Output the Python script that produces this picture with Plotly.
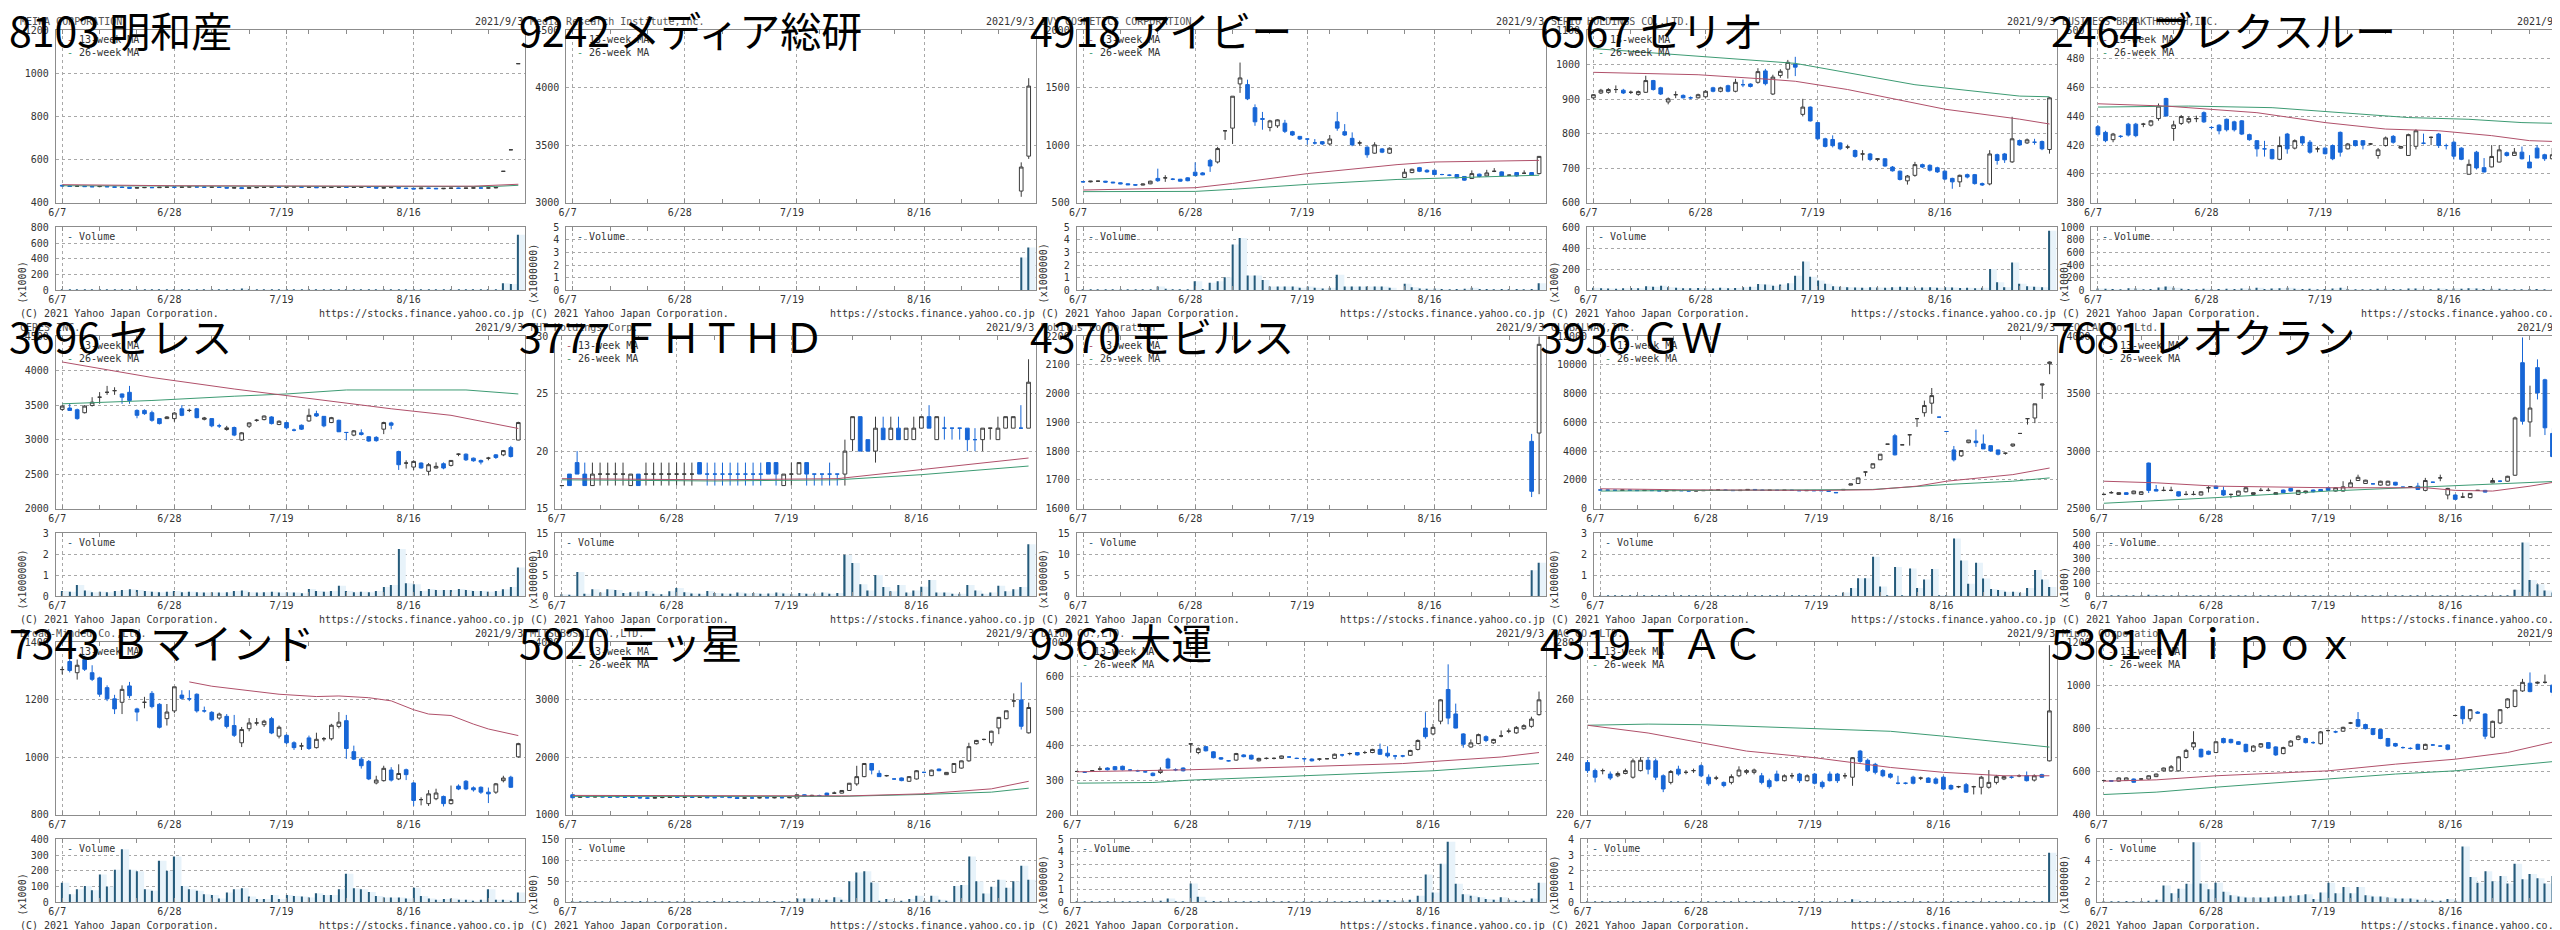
import plotly.graph_objects as go

W, H = 2560, 930
PW, PH = 512, 310
FONT = "DejaVu Sans Mono, Liberation Mono, monospace"
TITLE_FONT = "Noto Sans CJK JP, sans-serif"
UP_LINE = "#3c3c3c"
DOWN = "#1766d6"
MA13_COLOR = "#b0506a"
MA26_COLOR = "#3d9b73"
VOL_LINE = "#255a7a"
VOL_FILL = "#e8f3fa"
GRID = "#a8a8a8"
BORDER = "#8c8c8c"
TEXT = "#333333"

dates = ['6/7', '6/8', '6/9', '6/10', '6/11',
         '6/14', '6/15', '6/16', '6/17', '6/18',
         '6/21', '6/22', '6/23', '6/24', '6/25',
         '6/28', '6/29', '6/30', '7/1', '7/2',
         '7/5', '7/6', '7/7', '7/8', '7/9',
         '7/12', '7/13', '7/14', '7/15', '7/16',
         '7/19', '7/20', '7/21',
         '7/26', '7/27', '7/28', '7/29', '7/30',
         '8/2', '8/3', '8/4', '8/5', '8/6',
         '8/10', '8/11', '8/12', '8/13',
         '8/16', '8/17', '8/18', '8/19', '8/20',
         '8/23', '8/24', '8/25', '8/26', '8/27',
         '8/30', '8/31', '9/1', '9/2', '9/3']
label_dates = ['6/7', '6/28', '7/19', '8/16']
week_starts = ['6/7', '6/14', '6/21', '6/28', '7/5', '7/12', '7/19',
               '7/26', '8/2', '8/10', '8/16', '8/23', '8/30']

# ---- 8103 明和産 ----
ohlc_8103 = [
    (480, 482, 476, 477), (477, 479, 474, 475), (476, 478, 474, 476), (476, 477, 473, 474), (475, 477, 472, 473),
    (474, 476, 471, 475), (475, 476, 472, 473), (473, 475, 470, 471), (472, 474, 469, 470), (471, 472, 464, 466),
    (467, 470, 465, 469), (469, 471, 467, 470), (470, 471, 468, 469), (469, 472, 468, 471), (471, 473, 469, 472),
    (472, 474, 470, 471), (471, 473, 469, 472), (472, 474, 470, 473), (473, 474, 471, 472), (472, 474, 470, 471),
    (471, 473, 469, 472), (472, 473, 469, 470), (470, 472, 466, 467), (467, 470, 465, 469), (469, 471, 463, 465),
    (466, 470, 465, 469), (469, 471, 467, 470), (470, 472, 468, 471), (471, 473, 469, 472), (472, 473, 470, 471),
    (471, 473, 469, 472), (472, 474, 470, 473), (473, 474, 470, 471),
    (471, 473, 469, 472), (472, 474, 468, 469), (469, 471, 467, 470), (470, 472, 468, 471), (471, 473, 469, 472),
    (472, 473, 469, 470), (470, 472, 468, 471), (471, 473, 469, 472), (472, 474, 470, 471), (471, 472, 466, 467),
    (467, 470, 465, 469), (469, 471, 467, 470), (470, 471, 466, 467), (467, 469, 464, 465),
    (466, 468, 462, 463), (464, 468, 463, 467), (467, 469, 465, 466), (466, 468, 463, 464), (464, 467, 462, 466),
    (466, 468, 464, 467), (467, 469, 465, 466), (466, 468, 464, 467), (467, 469, 465, 468), (468, 470, 466, 467),
    (467, 469, 465, 468), (468, 472, 466, 470), (545, 545, 545, 545), (645, 645, 645, 645), (1045, 1045, 1045, 1045)]
vol_8103 = [12, 8, 10, 9, 7, 8, 6, 9, 12, 10, 14, 9, 7, 8, 6, 9, 7, 8, 6, 7, 8, 9, 10, 12, 25,
            9, 7, 8, 10, 6, 8, 9, 7, 8, 12, 10, 9, 7, 8, 6, 9, 10, 12, 9, 8, 10, 12,
            11, 9, 8, 7, 10, 9, 8, 7, 9, 10, 12, 15, 90, 80, 705]
ma13_8103 = [('6/7', 483), ('6/28', 478), ('7/19', 477), ('8/16', 475), ('8/26', 476), ('9/3', 485)]
ma26_8103 = [('6/7', 478), ('6/28', 476), ('7/19', 475), ('8/16', 474), ('8/31', 475), ('9/3', 480)]

# ---- 9242 メディア総研 (listed at the end of the window) ----
ohlc_9242 = [(3100, 3350, 3050, 3309), (3404, 4083, 3380, 4014)]
vol_9242 = [2.6, 3.4]
start_9242 = '9/2'

# ---- 4918 アイビー ----
ohlc_4918 = [
    (682, 686, 676, 680), (680, 688, 676, 686), (686, 690, 680, 686), (686, 688, 674, 678), (678, 680, 668, 672),
    (672, 675, 660, 663), (663, 666, 652, 655), (655, 658, 648, 652), (652, 664, 650, 661), (663, 690, 660, 686),
    (710, 795, 680, 690), (715, 738, 680, 715), (703, 712, 695, 703), (703, 706, 682, 686), (715, 720, 685, 690),
    (764, 850, 730, 735), (758, 765, 738, 741), (867, 880, 767, 818), (853, 985, 840, 970), (1125, 1125, 1045, 1125),
    (1148, 1426, 1010, 1426), (1533, 1719, 1455, 1585), (1527, 1570, 1392, 1403), (1326, 1355, 1168, 1203), (1231, 1289, 1134, 1225),
    (1154, 1220, 1120, 1211), (1168, 1225, 1150, 1220), (1191, 1220, 1105, 1120), (1117, 1125, 1080, 1088), (1076, 1080, 1045, 1053),
    (1053, 1053, 1005, 1053), (1019, 1053, 1005, 1019), (1030, 1035, 1000, 1010),
    (1010, 1088, 1000, 1053), (1203, 1289, 1125, 1148), (1117, 1183, 1080, 1088), (1059, 1111, 990, 1002), (1019, 1039, 996, 1019),
    (982, 990, 890, 916), (930, 1025, 925, 1002), (967, 975, 930, 939), (930, 980, 925, 973), None,
    (718, 795, 715, 764), (761, 795, 755, 790), (804, 810, 765, 772), (781, 790, 760, 767),
    (781, 785, 740, 744), (744, 750, 738, 744), (738, 745, 730, 738), (744, 748, 710, 715), (727, 730, 690, 695),
    (709, 780, 705, 752), (747, 752, 720, 727), (732, 785, 728, 758), (772, 800, 765, 772), (767, 772, 728, 732),
    (738, 745, 732, 738), (761, 765, 725, 732), (755, 780, 748, 755), (761, 765, 735, 738), (752, 905, 745, 902)]
vol_4918 = [0.05, 0.04, 0.04, 0.03, 0.04, 0.04, 0.03, 0.03, 0.05, 0.08,
            0.30, 0.12, 0.06, 0.05, 0.08, 0.73, 0.10, 0.60, 0.73, 1.04,
            3.63, 4.15, 1.17, 1.17, 0.83, 0.30, 0.30, 0.30, 0.30, 0.20,
            0.30, 0.20, 0.15, 0.20, 1.24, 0.30, 0.30, 0.30, 0.30, 0.30, 0.30, 0.20, None,
            0.52, 0.25, 0.15, 0.12, 0.15, 0.10, 0.08, 0.10, 0.12,
            0.20, 0.10, 0.10, 0.08, 0.10, 0.08, 0.10, 0.08, 0.10, 0.57]
ma13_4918 = [('6/7', 609), ('6/28', 629), ('7/5', 666), ('7/19', 752), ('8/6', 830), ('8/16', 853), ('9/3', 867)]
ma26_4918 = [('6/7', 595), ('6/28', 597), ('7/5', 615), ('7/19', 658), ('8/6', 701), ('9/3', 738)]

# ---- 6567 セリオ ----
ohlc_6567 = [
    (904, 915, 900, 913), (918, 930, 915, 926), (920, 932, 916, 928), (928, 940, 918, 928), (926, 930, 915, 918),
    (920, 925, 915, 920), (914, 925, 910, 922), (920, 968, 918, 954), (954, 956, 925, 928), (933, 936, 912, 915),
    (892, 905, 885, 901), (913, 923, 903, 913), (911, 914, 902, 904), (904, 908, 900, 904), (904, 916, 902, 913),
    (907, 926, 904, 923), (933, 936, 920, 923), (923, 936, 920, 933), (939, 942, 920, 923), (923, 959, 920, 949),
    (942, 957, 935, 942), (944, 946, 934, 937), (949, 990, 945, 980), (982, 988, 940, 945), (915, 971, 912, 964),
    (969, 987, 962, 981), (987, 1014, 960, 1007), (1002, 1023, 967, 993), (856, 901, 850, 877), (877, 879, 835, 837),
    (832, 834, 782, 785), (785, 788, 760, 763), (783, 795, 760, 765),
    (773, 775, 752, 756), (761, 768, 755, 761), (751, 754, 730, 734), (741, 752, 722, 741), (741, 744, 720, 725),
    (725, 729, 720, 727), (727, 729, 704, 706), (703, 706, 690, 692), (691, 693, 664, 667), (663, 680, 652, 677),
    (679, 718, 675, 710), (710, 713, 700, 703), (708, 711, 690, 694), (701, 704, 686, 689),
    (691, 693, 665, 668), (670, 672, 640, 660), (660, 681, 645, 679), (681, 684, 670, 674), (681, 683, 652, 655),
    (655, 658, 648, 651), (654, 752, 650, 741), (739, 742, 710, 722), (741, 744, 715, 724), (718, 849, 715, 785),
    (780, 783, 765, 767), (773, 786, 770, 782), (775, 785, 768, 775), (777, 780, 752, 756), (754, 906, 742, 904)]
vol_6567 = [25, 20, 18, 15, 20, 22, 20, 40, 35, 45, 30, 25, 20, 20, 22, 20, 18, 25, 20, 22,
            30, 35, 60, 55, 45, 55, 68, 140, 274, 130, 93, 62, 40, 35, 30, 28, 25, 30,
            28, 25, 30, 35, 30, 25, 28, 30, 25, 30, 28, 22, 25, 20,
            25, 202, 78, 30, 264, 62, 40, 35, 30, 566]
ma13_6567 = [('6/7', 978), ('6/25', 971), ('7/9', 957), ('7/14', 952), ('7/27', 928), ('8/16', 871), ('8/30', 842), ('9/3', 828)]
ma26_6567 = [('6/7', 1047), ('7/5', 1014), ('7/14', 1004), ('8/10', 942), ('8/30', 909), ('9/3', 907)]

# ---- 2464 ブレクスルー ----
ohlc_2464 = [
    (432.8, 434, 426, 427.3), (428.9, 430, 422, 423.1), (423.8, 428.5, 422, 427.7), (426.1, 427, 425, 426.1), (434.6, 435.5, 426, 427.0),
    (434.6, 435.5, 425.5, 426.6), (434.6, 435.5, 432.5, 434.6), (433.9, 437.5, 433, 436.9), (438.5, 449, 437, 447.2), (452.5, 453, 440, 440.3),
    (431.6, 437, 423, 434.1), (435.1, 441, 434, 439.9), (436.2, 440, 435, 438.5), (438.5, 440.5, 436, 438.5), (442.6, 443.5, 435.5, 436.2),
    (432.3, 433, 431, 432.3), (433.9, 434.5, 427.5, 430.0), (438.0, 438.5, 429.5, 430.7), (436.2, 437, 429.5, 430.7), (436.9, 437.5, 427, 427.7),
    (427.3, 428, 423, 423.8), (423.1, 423.5, 412, 417.4), (417.4, 423, 412, 417.4), (416.9, 417.5, 410, 410.5), (410.1, 426, 409.5, 419.7),
    (427.7, 428.5, 414, 417.4), (417.9, 424, 417, 423.1), (425.9, 426.5, 420, 421.5), (422.0, 423.5, 414, 415.1), (417.4, 419, 415, 417.4),
    (417.9, 418.5, 413.5, 414.0), (419.7, 420.5, 409.5, 410.5), (428.9, 429.5, 412, 415.1),
    (417.4, 421.5, 417, 420.8), (423.1, 423.5, 419, 419.7), (423.1, 423.5, 417, 420.1), (420.8, 421.5, 420, 420.8), (412.8, 418, 410.5, 416.7),
    (419.7, 426, 419, 425.0), (426.1, 427, 421, 422.0), (417.9, 419.5, 417.5, 419.0), (412.8, 428, 412.5, 427.3), (419.2, 431, 417, 430.0),
    (421.3, 428, 420.5, 421.3), (425.4, 426, 420, 425.4), (427.7, 428.5, 418, 419.7), (419.7, 421, 417, 419.7),
    (422.0, 423, 410, 412.3), (417.9, 418.5, 409.5, 410.1), (399.7, 410, 399.5, 406.6), (415.1, 416, 403, 404.1), (404.3, 411, 401, 401.3),
    (404.8, 420, 404.5, 412.1), (408.2, 420, 408, 416.7), (414.7, 415.5, 412, 412.8), (412.8, 418, 412.5, 415.1), (415.1, 419, 410, 410.5),
    (408.2, 413, 404, 404.1), (417.9, 420, 411, 411.0), (413.3, 414, 409, 410.5), (410.5, 418, 410, 413.3), (428.9, 493.5, 423, 493.1)]
vol_2464 = [30, 25, 20, 15, 35, 30, 15, 20, 45, 60, 40, 25, 20, 15, 25, 15, 20, 25, 20, 30,
            25, 40, 20, 30, 35, 40, 25, 20, 25, 15, 20, 30, 40, 20, 15, 15, 10, 25,
            25, 20, 10, 30, 30, 15, 15, 30, 15, 30, 25, 35, 30, 20,
            25, 25, 15, 15, 15, 20, 20, 15, 15, 1050]
ma13_2464 = [('6/7', 448.8), ('6/18', 447.2), ('7/6', 442.6), ('7/19', 435.7), ('8/2', 431.2), ('8/12', 430.0),
             ('8/23', 426.6), ('8/30', 423.1), ('9/3', 422.4)]
ma26_2464 = [('6/7', 446.5), ('6/23', 447.2), ('7/8', 446.1), ('7/21', 442.6), ('8/5', 439.2), ('8/18', 438.0),
             ('8/27', 435.7), ('9/3', 435.1)]

# ---- 3696 セレス ----
ohlc_3696 = [
    (3439, 3500, 3420, 3487), (3458, 3530, 3420, 3424), (3434, 3450, 3290, 3305), (3391, 3500, 3380, 3487), (3496, 3616, 3480, 3544),
    (3616, 3690, 3520, 3616), (3687, 3780, 3650, 3687), (3711, 3760, 3650, 3711), (3663, 3670, 3520, 3616), (3687, 3780, 3520, 3568),
    (3424, 3440, 3310, 3353), (3424, 3440, 3360, 3377), (3391, 3420, 3260, 3281), (3305, 3310, 3220, 3233), (3305, 3340, 3300, 3329),
    (3305, 3400, 3260, 3386), (3448, 3500, 3340, 3353), (3424, 3450, 3400, 3424), (3448, 3460, 3310, 3319), (3295, 3330, 3280, 3314),
    (3305, 3310, 3180, 3200), (3200, 3230, 3170, 3200), (3147, 3200, 3130, 3171), (3176, 3190, 3050, 3066), (2994, 3110, 2980, 3099),
    (3195, 3250, 3170, 3243), (3281, 3300, 3260, 3281), (3291, 3350, 3280, 3343), (3329, 3340, 3220, 3233), (3219, 3280, 3210, 3267),
    (3248, 3260, 3150, 3171), (3138, 3160, 3120, 3138), (3209, 3220, 3140, 3152),
    (3271, 3450, 3260, 3353), (3377, 3420, 3330, 3343), (3338, 3340, 3180, 3200), (3248, 3330, 3240, 3319), (3281, 3290, 3110, 3114),
    (3104, 3110, 2990, 3104), (3066, 3140, 3050, 3128), (3099, 3150, 3060, 3075), (3042, 3050, 2970, 2980), (3033, 3050, 2970, 2985),
    (3152, 3260, 3080, 3248), (3243, 3260, 3150, 3209), (2827, 2840, 2560, 2636), (2660, 2700, 2580, 2660),
    (2602, 2700, 2560, 2684), (2660, 2670, 2580, 2588), (2540, 2660, 2480, 2636), (2588, 2670, 2580, 2612), (2650, 2670, 2570, 2588),
    (2626, 2700, 2610, 2698), (2789, 2800, 2760, 2789), (2789, 2800, 2690, 2707), (2731, 2740, 2680, 2693), (2698, 2710, 2640, 2674),
    (2731, 2750, 2700, 2731), (2779, 2790, 2720, 2741), (2779, 2850, 2760, 2841), (2884, 2910, 2740, 2755), (2994, 3260, 2990, 3248)]
vol_3696 = [0.25, 0.22, 0.54, 0.28, 0.20, 0.22, 0.20, 0.25, 0.30, 0.34,
            0.30, 0.25, 0.22, 0.20, 0.22, 0.25, 0.20, 0.22, 0.20, 0.18,
            0.20, 0.18, 0.20, 0.25, 0.28, 0.20, 0.18, 0.20, 0.22, 0.18,
            0.20, 0.18, 0.15, 0.35, 0.25, 0.22, 0.25, 0.50,
            0.25, 0.20, 0.22, 0.20, 0.25, 0.44, 0.54, 2.25, 0.62,
            0.58, 0.25, 0.35, 0.30, 0.30, 0.30, 0.35, 0.30, 0.25, 0.25,
            0.22, 0.25, 0.34, 0.44, 1.37]
ma13_3696 = [('6/7', 4127), ('6/23', 3902), ('7/8', 3735), ('7/19', 3640), ('8/11', 3448), ('8/23', 3353), ('9/3', 3162)]
ma26_3696 = [('6/7', 3520), ('6/23', 3568), ('7/8', 3630), ('7/19', 3663), ('8/2', 3721), ('8/25', 3721), ('9/3', 3663)]

# ---- 3777 ＦＨＴＨＤ ----
ohlc_3777 = [
    (17, 17, 17, 17), (18, 18, 17, 17), (19, 20, 18, 18), (18, 19, 17, 17), (17, 19, 17, 18),
    (18, 19, 17, 18), (18, 19, 17, 18), (18, 19, 17, 18), (18, 19, 17, 18), (17, 18, 17, 18),
    (18, 18, 17, 17), (18, 19, 17, 18), (18, 19, 17, 18), (18, 19, 17, 18), (18, 19, 17, 18),
    (18, 19, 17, 18), (18, 19, 17, 18), (18, 19, 17, 18), (19, 19, 18, 18), (18, 19, 17, 18),
    (18, 19, 17, 18), (18, 19, 17, 18), (18, 19, 17, 18), (18, 19, 17, 18), (18, 19, 17, 18),
    (18, 19, 17, 18), (18, 19, 17, 18), (19, 19, 18, 18), (19, 19, 17, 18), (17, 18, 17, 18),
    (18, 19, 17, 18), (18, 19, 18, 19), (19, 19, 17, 18),
    (18, 18, 17, 18), (18, 18, 17, 18), (18, 19, 17, 18), (18, 18, 17, 18), (18, 21, 17, 20),
    (21, 23, 20, 23), (23, 23, 20, 20), (21, 21, 20, 20), (20, 23, 19, 22), (22, 23, 21, 21),
    (21, 23, 21, 22), (22, 23, 21, 21), (21, 22, 21, 22), (21, 23, 21, 22),
    (22, 23, 22, 23), (23, 24, 22, 22), (21, 23, 21, 23), (22, 23, 21, 22), (22, 22, 21, 22),
    (22, 22, 21, 22), (22, 22, 20, 21), (21, 22, 20, 21), (21, 22, 20, 22), (22, 22, 21, 22),
    (21, 23, 21, 22), (22, 23, 22, 23), (22, 23, 22, 23), (22, 24, 22, 22), (22, 28, 22, 26)]
vol_3777 = [0.5, 0.4, 5.8, 0.6, 1.7, 0.9, 1.7, 1.5, 0.8, 1.0, 1.1, 1.3, 0.6, 0.5, 1.2,
            2.0, 1.0, 0.7, 0.6, 1.3, 0.8, 0.7, 0.6, 0.9, 0.7, 0.8, 0.6, 0.7, 0.9, 0.7,
            0.5, 0.8, 0.6, 0.7, 0.9, 0.6, 0.8, 9.9, 7.9, 2.9, 1.4, 5.1, 2.2,
            1.2, 2.7, 0.9, 1.4, 2.3, 3.9, 0.9, 0.9, 0.6, 0.6, 2.7, 1.4, 0.6, 0.9,
            2.5, 1.2, 1.7, 2.2, 12.4]
ma13_3777 = [('6/7', 17.6), ('7/5', 17.5), ('7/29', 17.6), ('8/16', 18.4), ('9/3', 19.4)]
ma26_3777 = [('6/7', 17.5), ('7/5', 17.4), ('7/29', 17.5), ('8/16', 17.95), ('9/3', 18.7)]

# ---- 4370 モビルス (listed at the end of the window) ----
ohlc_4370 = [(1834, 1860, 1640, 1660), (1863, 2200, 1650, 2172)]
vol_4370 = [6.2, 8.0]
start_4370 = '9/2'

# ---- 3936 ＧＷ ----
ohlc_3936 = [
    (1300, 1330, 1270, 1290), (1290, 1310, 1260, 1280), (1280, 1300, 1250, 1270), (1270, 1300, 1250, 1290), (1290, 1310, 1260, 1270),
    (1270, 1290, 1240, 1250), (1250, 1280, 1230, 1270), (1270, 1290, 1240, 1250), (1250, 1270, 1220, 1230), (1230, 1260, 1210, 1240),
    (1240, 1270, 1220, 1260), (1260, 1280, 1230, 1240), (1240, 1260, 1210, 1220), (1220, 1250, 1200, 1240), (1240, 1270, 1220, 1260),
    (1260, 1290, 1240, 1270), (1270, 1300, 1250, 1290), (1290, 1310, 1260, 1270), (1270, 1290, 1240, 1250), (1250, 1280, 1230, 1270),
    (1270, 1340, 1260, 1330), (1330, 1350, 1280, 1290), (1290, 1310, 1250, 1260), (1260, 1290, 1240, 1280), (1280, 1300, 1250, 1260),
    (1260, 1290, 1240, 1280), (1280, 1300, 1250, 1260), (1260, 1280, 1230, 1240), (1240, 1270, 1220, 1260), (1260, 1280, 1230, 1240),
    (1260, 1280, 1230, 1240), (1240, 1250, 1190, 1200), (1120, 1140, 1090, 1100),
    (1300, 1340, 1290, 1330), (1630, 1720, 1620, 1720), (1743, 2140, 1740, 2133), (2546, 2546, 2248, 2546), (2822, 3120, 2800, 3120),
    (3395, 3785, 3380, 3785), (4485, 4485, 4485, 4485), (5070, 5200, 3700, 3739), (4439, 4439, 4439, 4439), (5139, 5139, 4382, 5139),
    (6263, 6263, 5690, 6263), (6675, 7520, 6400, 7180), (7340, 8396, 6600, 7868), (6368, 6368, 6368, 6368),
    (5368, 5368, 5368, 5368), (4083, 4358, 3280, 3395), (3670, 4037, 3600, 4037), (4588, 4772, 4550, 4772), (4702, 5505, 4300, 4588),
    (4496, 5161, 4150, 4152), (4381, 4400, 3950, 4014), (4083, 4100, 3700, 3785), (3854, 3900, 3750, 3854), (4358, 4496, 4300, 4496),
    (5230, 5230, 5230, 5230), (6263, 6263, 5850, 6263), (6308, 7295, 5950, 7295), (8600, 8680, 7639, 8671), (10093, 10250, 9360, 10208)]
vol_3936 = [0.03, 0.02, 0.02, 0.03, 0.02, 0.02, 0.02, 0.03, 0.02, 0.02,
            0.02, 0.02, 0.02, 0.02, 0.03, 0.02, 0.03, 0.02, 0.02, 0.02,
            0.03, 0.02, 0.02, 0.02, 0.02, 0.02, 0.02, 0.02, 0.02, 0.02,
            0.03, 0.04, 0.05, 0.19, 0.40, 0.86, 0.86, 1.88,
            0.47, 0.05, 1.40, 0.05, 1.33, 0.40, 0.80, 1.30, 0.03,
            0.03, 2.75, 1.70, 0.60, 1.60, 0.85, 0.35, 0.30, 0.22, 0.22,
            0.17, 0.40, 1.25, 0.80, 0.45]
ma13_3936 = [('6/7', 1376), ('6/22', 1308), ('7/19', 1262), ('7/30', 1308), ('8/10', 1560), ('8/16', 1904),
             ('8/27', 2363), ('9/3', 2822)]
ma26_3936 = [('6/7', 1216), ('7/5', 1262), ('7/30', 1330), ('8/16', 1675), ('8/27', 1904), ('9/3', 2133)]

# ---- 7681 レオクラン ----
ohlc_7681 = [
    (2623, 2630, 2615, 2623), (2638, 2652, 2630, 2638), (2623, 2640, 2618, 2638), (2638, 2642, 2620, 2623), (2629, 2655, 2625, 2652),
    (2623, 2650, 2618, 2646), (2896, 2900, 2635, 2658), (2666, 2705, 2650, 2652), (2658, 2690, 2650, 2658), (2658, 2690, 2650, 2658),
    (2646, 2650, 2605, 2609), (2623, 2652, 2615, 2623), (2623, 2652, 2615, 2623), (2618, 2650, 2615, 2646), (2681, 2695, 2640, 2681),
    (2695, 2700, 2670, 2675), (2658, 2690, 2610, 2618), (2623, 2630, 2590, 2623), (2615, 2655, 2610, 2652), (2646, 2685, 2640, 2681),
    (2623, 2640, 2615, 2638), (2658, 2680, 2650, 2658), (2658, 2680, 2650, 2658), (2623, 2640, 2618, 2638), (2661, 2665, 2635, 2638),
    (2675, 2680, 2648, 2652), (2623, 2660, 2618, 2658), (2638, 2655, 2630, 2652), (2661, 2665, 2640, 2646), (2666, 2670, 2648, 2652),
    (2681, 2685, 2655, 2658), (2652, 2685, 2648, 2681), (2652, 2738, 2648, 2689),
    (2686, 2752, 2680, 2724), (2744, 2795, 2740, 2772), (2718, 2750, 2715, 2747), (2715, 2720, 2712, 2715), (2704, 2742, 2700, 2738),
    (2704, 2742, 2700, 2738), (2729, 2732, 2700, 2704), (2686, 2690, 2683, 2686), (2690, 2694, 2686, 2690), (2695, 2724, 2662, 2666),
    (2658, 2767, 2650, 2744), (2729, 2733, 2725, 2729), (2767, 2795, 2738, 2767), (2618, 2680, 2580, 2675),
    (2618, 2622, 2578, 2580), (2600, 2638, 2595, 2600), (2595, 2635, 2590, 2632), (2658, 2662, 2655, 2658), (2658, 2662, 2640, 2643),
    (2724, 2767, 2720, 2744), (2738, 2745, 2730, 2738), (2738, 2785, 2735, 2781), (2790, 3300, 2785, 3289), (3770, 3990, 3231, 3260),
    (3254, 3570, 3125, 3375), (3727, 3799, 3450, 3507), (3621, 3630, 3140, 3203), (3154, 3200, 2940, 2953), (2916, 3460, 2910, 3455)]
vol_7681 = [3, 4, 3, 2, 3, 3, 12, 4, 3, 3, 4, 3, 3, 3, 4, 4, 4, 3, 3, 4, 3, 3, 3, 3, 4, 4, 3, 3, 3, 3,
            4, 4, 5, 5, 6, 4, 3, 4, 3, 3, 3, 3, 4, 5, 3, 4, 5, 4, 3, 3, 3, 3,
            4, 3, 5, 52, 427, 130, 96, 47, 31, 117]
ma13_7681 = [('6/7', 2738), ('6/16', 2724), ('6/28', 2695), ('7/19', 2681), ('8/10', 2681), ('8/16', 2658),
             ('8/23', 2652), ('8/30', 2695), ('9/3', 2738)]
ma26_7681 = [('6/7', 2546), ('6/28', 2595), ('7/19', 2652), ('8/10', 2686), ('8/23', 2709), ('8/27', 2724), ('9/3', 2738)]

# ---- 7343 Ｂマインド ----
ohlc_7343 = [
    (1305, 1315, 1288, 1305), (1333, 1345, 1295, 1302), (1294, 1340, 1270, 1320), (1340, 1353, 1300, 1306), (1294, 1320, 1265, 1271),
    (1276, 1280, 1210, 1219), (1242, 1250, 1195, 1203), (1203, 1217, 1150, 1168), (1191, 1250, 1150, 1236), (1248, 1262, 1205, 1214),
    (1168, 1172, 1125, 1157), (1191, 1210, 1170, 1191), (1222, 1230, 1170, 1176), (1184, 1188, 1100, 1104), (1134, 1185, 1110, 1157),
    (1161, 1245, 1153, 1245), (1216, 1233, 1200, 1205), (1203, 1233, 1195, 1203), (1219, 1222, 1155, 1161), (1161, 1176, 1155, 1161),
    (1156, 1160, 1125, 1130), (1136, 1155, 1130, 1150), (1142, 1150, 1100, 1107), (1110, 1147, 1070, 1076), (1050, 1105, 1035, 1096),
    (1099, 1136, 1090, 1119), (1119, 1136, 1110, 1119), (1113, 1130, 1105, 1125), (1134, 1140, 1080, 1084), (1073, 1110, 1065, 1104),
    (1076, 1080, 1045, 1050), (1050, 1055, 1025, 1033), (1039, 1050, 1025, 1039),
    (1067, 1075, 1025, 1030), (1033, 1085, 1030, 1062), (1064, 1070, 1055, 1064), (1064, 1116, 1058, 1111), (1107, 1157, 1100, 1122),
    (1127, 1147, 994, 1030), (1019, 1040, 990, 993), (993, 1000, 960, 970), (985, 990, 920, 924), (910, 935, 905, 920),
    (918, 970, 915, 961), (955, 965, 915, 920), (924, 975, 920, 943), (956, 960, 920, 939),
    (910, 913, 830, 849), (852, 860, 832, 852), (838, 885, 830, 872), (855, 890, 850, 875), (863, 866, 828, 838),
    (838, 901, 835, 852), (899, 905, 885, 889), (916, 920, 885, 889), (893, 898, 880, 886), (895, 898, 872, 878),
    (878, 894, 840, 872), (878, 910, 872, 907), (918, 935, 912, 927), (930, 935, 893, 895), (1001, 1050, 998, 1047)]
vol_7343 = [124, 52, 83, 104, 77, 176, 100, 207, 336, 207, 197, 83, 73, 263, 201,
            290, 104, 83, 73, 52, 46, 25, 62, 83, 89, 37, 21, 21, 46, 21,
            46, 41, 37, 31, 58, 46, 46, 83, 182, 89, 83, 66, 41, 31, 31, 31, 25,
            93, 41, 25, 17, 21, 25, 17, 17, 10, 17, 83, 17, 17, 10, 62]
ma13_7343 = [('6/30', 1262), ('7/5', 1247), ('7/16', 1219), ('7/27', 1211), ('7/30', 1213), ('8/5', 1207),
             ('8/11', 1196), ('8/16', 1165), ('8/18', 1150), ('8/23', 1145), ('8/26', 1115), ('8/30', 1098), ('9/3', 1075)]

# ---- 5820 三ッ星 ----
ohlc_5820 = [
    (1344, 1350, 1285, 1293), (1300, 1320, 1290, 1310), (1310, 1320, 1295, 1305), (1305, 1318, 1298, 1312), (1312, 1320, 1300, 1306),
    (1306, 1315, 1295, 1300), (1320, 1330, 1300, 1305), (1305, 1312, 1296, 1300), (1310, 1315, 1295, 1298), (1298, 1305, 1280, 1290),
    (1290, 1300, 1270, 1285), (1285, 1300, 1278, 1295), (1295, 1305, 1285, 1298), (1298, 1310, 1290, 1305), (1305, 1312, 1298, 1300),
    (1300, 1310, 1292, 1305), (1305, 1312, 1296, 1300), (1300, 1308, 1292, 1302), (1310, 1315, 1290, 1293), (1302, 1310, 1288, 1292),
    (1315, 1320, 1300, 1305), (1310, 1315, 1290, 1295), (1295, 1300, 1275, 1280), (1285, 1295, 1275, 1290), (1290, 1300, 1280, 1288),
    (1288, 1298, 1280, 1295), (1295, 1300, 1285, 1290), (1290, 1300, 1282, 1296), (1296, 1305, 1285, 1292), (1292, 1300, 1285, 1298),
    (1287, 1350, 1282, 1344), (1344, 1350, 1310, 1320), (1320, 1345, 1315, 1333),
    (1330, 1345, 1320, 1330), (1373, 1380, 1325, 1333), (1373, 1400, 1360, 1373), (1373, 1425, 1368, 1419), (1419, 1550, 1410, 1545),
    (1533, 1849, 1500, 1660), (1660, 1895, 1650, 1889), (1889, 1895, 1700, 1774), (1717, 1770, 1660, 1660), (1677, 1690, 1660, 1677),
    (1619, 1625, 1612, 1619), (1637, 1645, 1580, 1591), (1579, 1670, 1570, 1660), (1619, 1775, 1610, 1763),
    (1734, 1745, 1720, 1734), (1677, 1780, 1670, 1774), (1792, 1800, 1755, 1763), (1694, 1740, 1690, 1734), (1734, 1895, 1730, 1889),
    (1809, 1940, 1800, 1935), (1935, 2250, 1920, 2182), (2233, 2300, 2220, 2291), (2308, 2320, 2290, 2308), (2250, 2460, 2200, 2451),
    (2508, 2700, 2400, 2692), (2669, 2810, 2660, 2807), (2979, 3110, 2870, 2979), (2996, 3300, 2480, 2537), (2423, 2950, 2410, 2864)]
vol_5820 = [3, 2, 2, 1, 2, 2, 2, 1, 2, 3, 2, 1, 2, 1, 2, 2, 2, 1, 2, 3, 2, 3, 2, 2, 1, 2, 2, 3, 2, 2,
            9, 9, 9, 5, 6, 12, 6, 50, 71, 74, 47, 4, 8, 3, 4, 8, 16,
            4, 16, 6, 4, 39, 41, 109, 50, 21, 37, 54, 35, 50, 87, 54]
ma13_5820 = [('6/7', 1333), ('7/30', 1325), ('8/16', 1361), ('8/27', 1447), ('9/3', 1579)]
ma26_5820 = [('6/7', 1316), ('7/29', 1316), ('8/16', 1350), ('8/27', 1390), ('9/3', 1459)]

# ---- 9363 大運 ----
ohlc_9363 = [
    (325, 327, 323, 325), (323, 325, 321, 323), (327, 329, 325, 327), (332, 340, 328, 332), (335, 337, 328, 330),
    (339, 341, 328, 330), (340, 342, 328, 330), (329, 332, 326, 329), (327, 330, 324, 327), (324, 326, 322, 324),
    (320, 322, 311, 313), (322, 337, 318, 329), (361, 365, 333, 335), (330, 334, 326, 330), (335, 337, 325, 327),
    (405, 406, 380, 405), (380, 395, 375, 391), (397, 399, 383, 385), (382, 384, 363, 365), (365, 367, 359, 361),
    (356, 358, 354, 356), (358, 379, 356, 377), (373, 375, 366, 368), (372, 374, 359, 361), (356, 365, 354, 363),
    (363, 366, 360, 363), (363, 366, 360, 363), (363, 371, 361, 370), (367, 369, 365, 367), (363, 365, 361, 363),
    (362, 364, 353, 362), (361, 363, 354, 356), (361, 364, 356, 361),
    (362, 364, 360, 362), (363, 377, 361, 375), (373, 376, 368, 373), (377, 380, 372, 377), (380, 381, 371, 373),
    (380, 385, 376, 380), (380, 391, 378, 389), (389, 406, 373, 375), (378, 398, 365, 370), (370, 373, 360, 370),
    (370, 373, 366, 370), (372, 388, 370, 386), (389, 418, 386, 415), (451, 497, 420, 426),
    (434, 463, 430, 453), (471, 535, 462, 533), (563, 636, 462, 480), (492, 522, 450, 451), (434, 436, 394, 404),
    (396, 418, 394, 408), (406, 435, 404, 432), (426, 430, 410, 415), (408, 420, 405, 418), (428, 444, 424, 428),
    (442, 450, 436, 442), (437, 457, 434, 453), (449, 462, 446, 458), (456, 484, 452, 477), (490, 557, 487, 533)]
vol_9363 = [0.05, 0.04, 0.03, 0.04, 0.05, 0.06, 0.05, 0.04, 0.05, 0.08,
            0.13, 0.13, 0.30, 0.08, 0.06, 1.50, 0.44, 0.13, 0.10, 0.08,
            0.06, 0.08, 0.06, 0.05, 0.05, 0.05, 0.04, 0.04, 0.05, 0.04,
            0.04, 0.04, 0.05, 0.05, 0.06, 0.07, 0.10, 0.08,
            0.10, 0.15, 0.20, 0.18, 0.12, 0.15, 0.20, 0.52, 2.20,
            0.78, 3.05, 4.80, 1.48, 0.65, 0.52, 0.40, 0.26, 0.20, 0.40,
            0.20, 0.13, 0.13, 0.30, 1.55]
ma13_9363 = [('6/7', 324), ('6/28', 330), ('7/19', 339), ('8/10', 348), ('8/16', 354), ('8/27', 367), ('9/3', 380)]
ma26_9363 = [('6/7', 291), ('6/21', 293), ('6/28', 300), ('7/19', 313), ('8/16', 327), ('8/27', 341), ('9/3', 348)]

# ---- 4319 ＴＡＣ ----
ohlc_4319 = [
    (238.1, 239, 234.5, 235.3), (235.3, 236, 231.2, 233.0), (235.3, 236, 234, 235.3), (234.1, 235, 232, 232.7), (233.5, 235, 233, 234.3),
    (234.3, 236, 234, 235.3), (233.0, 239.5, 232.5, 238.7), (235.3, 240, 235, 238.9), (238.9, 240, 234, 235.8), (238.7, 239.5, 232, 233.0),
    (233.5, 234, 227.8, 228.9), (231.2, 235.5, 230.5, 235.0), (235.8, 237, 233.5, 234.1), (234.7, 235.5, 234, 234.7), (235.3, 236, 234.5, 235.3),
    (237.0, 237.5, 233, 233.5), (233.0, 234, 230, 230.7), (232.7, 233.5, 232, 232.7), (231.2, 231.5, 229.5, 230.1), (231.2, 234, 230.5, 233.2),
    (233.5, 236.8, 233, 235.5), (234.7, 235.8, 234, 235.3), (234.7, 236, 234, 235.5), (233.5, 234.5, 230.5, 231.2), (231.8, 232.5, 229, 229.7),
    (234.1, 235.3, 231.5, 231.8), (231.8, 234, 231.5, 233.5), (233.5, 234.5, 232.5, 233.5), (234.1, 234.5, 231, 231.8), (231.8, 234, 231.5, 233.5),
    (234.1, 234.5, 230.5, 230.9), (231.2, 231.8, 229, 229.7), (234.1, 235, 231.5, 231.8),
    (234.1, 234.5, 231, 231.8), (233.5, 234.5, 232.5, 233.5), (233.0, 240, 230, 239.8), (242.1, 242.5, 238, 238.5), (238.9, 239.5, 234.8, 235.3),
    (237.5, 238, 234, 234.7), (235.3, 235.8, 233, 233.5), (234.1, 234.5, 232.5, 233.0), (230.9, 233.5, 230.5, 230.9), (230.9, 231.2, 230.5, 230.9),
    (233.0, 233.5, 230.5, 230.9), (232.7, 233.2, 232, 232.7), (232.7, 233, 231, 231.2), (232.4, 233, 230.5, 230.9),
    (233.0, 233.5, 228.5, 228.9), (230.1, 230.5, 228.5, 228.9), (229.7, 230, 229.2, 229.7), (230.4, 231, 227.5, 227.8), (229.7, 230, 227, 229.7),
    (229.5, 233.5, 227, 233.0), (229.5, 235.5, 229, 231.2), (231.2, 233.8, 230.5, 233.2), (232.4, 233.5, 232, 233.2), (233.0, 233.5, 232.5, 233.0),
    (233.5, 234, 233, 233.5), (233.5, 235, 231.5, 231.8), (232.0, 234, 231.5, 233.5), (233.9, 234.2, 232.8, 233.0), (238.7, 279, 238.5, 256.1)]
vol_4319 = [0.04, 0.03, 0.02, 0.02, 0.02, 0.02, 0.04, 0.03, 0.03, 0.03,
            0.04, 0.03, 0.02, 0.02, 0.02, 0.03, 0.03, 0.02, 0.02, 0.02,
            0.02, 0.02, 0.02, 0.03, 0.03, 0.02, 0.02, 0.02, 0.02, 0.02,
            0.03, 0.03, 0.02, 0.02, 0.02, 0.20, 0.06, 0.04,
            0.03, 0.03, 0.02, 0.02, 0.02, 0.02, 0.02, 0.02, 0.02,
            0.03, 0.02, 0.02, 0.03, 0.02, 0.04, 0.03, 0.02, 0.02, 0.02,
            0.02, 0.02, 0.02, 0.02, 3.15]
ma13_4319 = [('6/7', 251.1), ('6/17', 248.4), ('6/28', 245.0), ('7/6', 242.1), ('7/19', 239.8), ('8/4', 236.4),
             ('8/16', 234.7), ('8/26', 233.5), ('9/3', 233.5)]
ma26_4319 = [('6/7', 251.1), ('6/17', 251.5), ('6/28', 251.3), ('7/19', 249.9), ('8/4', 249.0), ('8/16', 247.3),
             ('8/26', 245.0), ('9/3', 243.5)]

# ---- 5381 Ｍｉｐｏｘ ----
ohlc_5381 = [
    (558, 562, 554, 558), (558, 560, 552, 555), (555, 572, 553, 570), (558, 572, 556, 570), (565, 567, 548, 550),
    (565, 568, 562, 565), (565, 582, 563, 580), (576, 590, 574, 588), (603, 618, 600, 616), (603, 630, 600, 622),
    (603, 672, 600, 668), (665, 705, 660, 698), (714, 787, 700, 734), (703, 706, 665, 668), (694, 697, 676, 680),
    (688, 740, 685, 738), (753, 757, 730, 734), (749, 752, 730, 734), (738, 741, 723, 726), (726, 729, 688, 692),
    (695, 722, 690, 718), (714, 732, 710, 729), (734, 737, 705, 708), (714, 717, 672, 677), (683, 715, 680, 711),
    (718, 745, 715, 741), (749, 768, 745, 764), (753, 757, 730, 734), (734, 740, 728, 734), (729, 788, 725, 784),
    (790, 795, 785, 790), (784, 790, 778, 784), (787, 808, 784, 805),
    (825, 830, 820, 825), (841, 876, 805, 810), (818, 822, 795, 799), (799, 802, 768, 772), (795, 798, 750, 753),
    (753, 756, 715, 718), (730, 733, 714, 718), (711, 716, 706, 711), (707, 712, 702, 707), (726, 729, 700, 703),
    (703, 729, 700, 726), (723, 727, 720, 723), (718, 722, 715, 718), (723, 726, 698, 703),
    (860, 862, 858, 860), (902, 905, 820, 845), (845, 890, 832, 887), (876, 880, 868, 871), (867, 870, 750, 764),
    (759, 836, 755, 833), (825, 890, 820, 887), (897, 940, 892, 937), (902, 980, 898, 978), (974, 1030, 970, 1014),
    (1010, 1060, 968, 971), (1010, 1018, 1005, 1014), (1014, 1050, 1008, 1014), (1001, 1005, 950, 968), (1017, 1085, 1012, 1070)]
vol_5381 = [0.10, 0.08, 0.10, 0.12, 0.10, 0.12, 0.15, 0.25, 1.60, 0.87,
            1.30, 1.77, 5.70, 1.80, 1.24, 1.86, 1.00, 0.68, 0.56, 0.47,
            0.47, 0.47, 0.47, 0.56, 0.56, 0.62, 0.68, 0.78, 0.31, 0.93,
            1.86, 0.87, 1.46, 0.87, 1.46, 0.68, 0.56, 0.56,
            0.47, 0.37, 0.37, 0.37, 0.25, 0.25, 0.16, 0.16, 0.31,
            0.16, 5.30, 2.40, 1.86, 2.95, 2.00, 2.50, 1.80, 3.66, 2.20,
            2.70, 2.30, 1.80, 2.50, 3.90]
ma13_5381 = [('6/7', 555), ('6/16', 561), ('6/28', 580), ('7/19', 603), ('8/3', 634), ('8/16', 657), ('8/25', 688), ('9/3', 744)]
ma26_5381 = [('6/7', 493), ('6/16', 504), ('6/28', 527), ('7/19', 565), ('8/3', 588), ('8/16', 603), ('8/25', 626), ('9/3', 649)]

K, M = '(x1000)', '(x1000000)'
stocks = [
    dict(title='8103 明和産', name='MEIWA CORPORATION', ohlc=ohlc_8103, vol=vol_8103, ma13=ma13_8103, ma26=ma26_8103,
         prange=(400, 1200), pdtick=200, vrange=(0, 800), vdtick=200, unit=K, left=40),
    dict(title='9242 メディア総研', name='Media Research Institute,Inc.', ohlc=ohlc_9242, vol=vol_9242, start=start_9242,
         prange=(3000, 4500), pdtick=500, vrange=(0, 5), vdtick=1, unit=M, left=40),
    dict(title='4918 アイビー', name='IVY COSMETICS CORPORATION', ohlc=ohlc_4918, vol=vol_4918, ma13=ma13_4918, ma26=ma26_4918,
         prange=(500, 2000), pdtick=500, vrange=(0, 5), vdtick=1, unit=M, left=40),
    dict(title='6567 セリオ', name='SERIO HOLDINGS CO.,LTD.', ohlc=ohlc_6567, vol=vol_6567, ma13=ma13_6567, ma26=ma26_6567,
         prange=(600, 1100), pdtick=100, vrange=(0, 600), vdtick=200, unit=K, left=40),
    dict(title='2464 ブレクスルー', name='BUSINESS BREAKTHROUGH,INC.', ohlc=ohlc_2464, vol=vol_2464, ma13=ma13_2464, ma26=ma26_2464,
         prange=(380, 500), pdtick=20, vrange=(0, 1000), vdtick=200, unit=K, left=34),
    dict(title='3696 セレス', name='CERES INC.', ohlc=ohlc_3696, vol=vol_3696, ma13=ma13_3696, ma26=ma26_3696,
         prange=(2000, 4500), pdtick=500, vrange=(0, 3), vdtick=1, unit=M, left=40),
    dict(title='3777 ＦＨＴＨＤ', name='FHT Holdings Corp.', ohlc=ohlc_3777, vol=vol_3777, ma13=ma13_3777, ma26=ma26_3777,
         prange=(15, 30), pdtick=5, vrange=(0, 15), vdtick=5, unit=M, left=29),
    dict(title='4370 モビルス', name='Mobilus Corporation', ohlc=ohlc_4370, vol=vol_4370, start=start_4370,
         prange=(1600, 2200), pdtick=100, vrange=(0, 15), vdtick=5, unit=M, left=40),
    dict(title='3936 ＧＷ', name='GLOBALWAY,Inc.', ohlc=ohlc_3936, vol=vol_3936, ma13=ma13_3936, ma26=ma26_3936,
         prange=(0, 12000), pdtick=2000, vrange=(0, 3), vdtick=1, unit=M, left=47),
    dict(title='7681 レオクラン', name='LEOCLAN Co.,Ltd.', ohlc=ohlc_7681, vol=vol_7681, ma13=ma13_7681, ma26=ma26_7681,
         prange=(2500, 4000), pdtick=500, vrange=(0, 500), vdtick=100, unit=K, left=40),
    dict(title='7343 Ｂマインド', name='Broad-Minded Co.,Ltd.', ohlc=ohlc_7343, vol=vol_7343, ma13=ma13_7343,
         prange=(800, 1400), pdtick=200, vrange=(0, 400), vdtick=100, unit=K, left=40),
    dict(title='5820 三ッ星', name='MITSUBOSHI CO.,LTD.', ohlc=ohlc_5820, vol=vol_5820, ma13=ma13_5820, ma26=ma26_5820,
         prange=(1000, 4000), pdtick=1000, vrange=(0, 150), vdtick=50, unit=K, left=40),
    dict(title='9363 大運', name='DAIUN CO.,LTD.', ohlc=ohlc_9363, vol=vol_9363, ma13=ma13_9363, ma26=ma26_9363,
         prange=(200, 700), pdtick=100, vrange=(0, 5), vdtick=1, unit=M, left=34),
    dict(title='4319 ＴＡＣ', name='TAC CO.,LTD.', ohlc=ohlc_4319, vol=vol_4319, ma13=ma13_4319, ma26=ma26_4319,
         prange=(220, 280), pdtick=20, vrange=(0, 4), vdtick=1, unit=M, left=34),
    dict(title='5381 Ｍｉｐｏｘ', name='Mipox Corporation', ohlc=ohlc_5381, vol=vol_5381, ma13=ma13_5381, ma26=ma26_5381,
         prange=(400, 1200), pdtick=200, vrange=(0, 6), vdtick=2, unit=M, left=40),
]

XRANGE = [-0.85, 61.95]


def px(x):
    return x / W


def py(y):
    return 1 - y / H


def axis_names(n):
    return ('x' if n == 1 else f'x{n}', 'y' if n == 1 else f'y{n}',
            'xaxis' if n == 1 else f'xaxis{n}', 'yaxis' if n == 1 else f'yaxis{n}')


fig = go.Figure()
layout = dict(width=W, height=H, margin=dict(l=0, r=0, t=0, b=0),
              paper_bgcolor='white', plot_bgcolor='white', showlegend=False,
              barmode='overlay', boxgap=0.3)
annotations = []
tickfont = dict(family=FONT, size=10, color=TEXT)
label_idx = [dates.index(d) for d in label_dates]
week_idx = [dates.index(d) for d in week_starts]


def ann(x, y, text, size=10, xanchor='left', yanchor='middle', color=TEXT, family=FONT, angle=0, xshift=0):
    annotations.append(dict(x=px(x), y=py(y), xref='paper', yref='paper', text=text, showarrow=False,
                            xanchor=xanchor, yanchor=yanchor, textangle=angle, borderpad=0, xshift=xshift,
                            font=dict(family=family, size=size, color=color)))


for i, s in enumerate(stocks):
    ox, oy = (i % 5) * PW, (i // 5) * PH
    left = s['left']
    x0 = dates.index(s.get('start', '6/7'))
    pxn, pyn, pxk, pyk = axis_names(2 * i + 1)
    vxn, vyn, vxk, vyk = axis_names(2 * i + 2)

    xa = dict(range=XRANGE, tickmode='array', tickvals=label_idx, ticktext=label_dates,
              ticks='inside', ticklen=4, tickcolor=BORDER, showgrid=True, gridcolor=GRID, griddash='3px,3px',
              showline=True, linecolor=BORDER, mirror='allticks', zeroline=False, fixedrange=True,
              minor=dict(tickvals=week_idx, ticks='inside', ticklen=4, tickcolor=BORDER, showgrid=False),
              rangeslider=dict(visible=False), tickfont=tickfont, ticklabelshift=-5)
    ya = dict(showgrid=True, gridcolor=GRID, griddash='3px,3px', showline=True, linecolor=BORDER,
              mirror=True, ticks='', zeroline=False, tickfont=tickfont, fixedrange=True,
              tickformat='d', ticklabelstandoff=4)

    layout[pxk] = dict(xa, domain=[px(ox + left), px(ox + 511)], anchor=pyn)
    layout[pyk] = dict(ya, domain=[py(oy + 191), py(oy + 16.5)], anchor=pxn,
                       range=list(s['prange']), tick0=s['prange'][0], dtick=s['pdtick'])
    layout[vxk] = dict(xa, domain=[px(ox + left), px(ox + 511)], anchor=vyn)
    layout[vyk] = dict(ya, domain=[py(oy + 280), py(oy + 216)], anchor=vxn,
                       range=list(s['vrange']), tick0=0, dtick=s['vdtick'])

    days = [x0 + k for k, v in enumerate(s['ohlc']) if v]
    rows = [v for v in s['ohlc'] if v]
    fig.add_trace(go.Candlestick(
        x=days, open=[r[0] for r in rows], high=[r[1] for r in rows],
        low=[r[2] for r in rows], close=[r[3] for r in rows],
        increasing=dict(line=dict(color=UP_LINE, width=1), fillcolor='white'),
        decreasing=dict(line=dict(color=DOWN, width=1), fillcolor=DOWN),
        whiskerwidth=0, xaxis=pxn, yaxis=pyn))

    for key, color in (('ma26', MA26_COLOR), ('ma13', MA13_COLOR)):
        if key in s:
            fig.add_trace(go.Scatter(x=[dates.index(d) for d, _ in s[key]], y=[v for _, v in s[key]],
                                     mode='lines', line=dict(color=color, width=1),
                                     xaxis=pxn, yaxis=pyn, hoverinfo='skip'))

    vdays = [x0 + k for k, v in enumerate(s['vol']) if v is not None]
    vvals = [v for v in s['vol'] if v is not None]
    fig.add_trace(go.Bar(x=vdays, y=vvals, width=0.95, offset=0, marker=dict(color=VOL_FILL, line=dict(width=0)),
                         xaxis=vxn, yaxis=vyn))
    fig.add_trace(go.Bar(x=vdays, y=vvals, width=0.16, offset=-0.08, marker=dict(color=VOL_LINE, line=dict(width=0)),
                         xaxis=vxn, yaxis=vyn))

    # texts
    ann(ox + 3, oy + 8, s['name'], color='#555555')
    ann(ox + 510, oy + 8, '2021/9/3', xanchor='right')
    lx = ox + left + 10
    ann(lx, oy + 26, f'<span style="color:{MA13_COLOR}">-</span> 13-week MA')
    if 'ma26' in s or 'start' in s:
        ann(lx, oy + 39, f'<span style="color:{MA26_COLOR}">-</span> 26-week MA')
    ann(lx, oy + 225, f'<span style="color:{VOL_LINE}">-</span> Volume')
    ann(ox + 7, oy + 293 - len(s['unit']) * 3, s['unit'], angle=-90, xanchor='center')
    ann(ox + 3, oy + 303, '(C) 2021 Yahoo Japan Corporation.')
    ann(ox + 511, oy + 303, 'https://stocks.finance.yahoo.co.jp', xanchor='right')
    ann(ox, oy + 15, s['title'], size=41, color='black', family=TITLE_FONT, xshift=-8)

layout['annotations'] = annotations
fig.update_layout(**layout)
fig.write_html("out.html")
